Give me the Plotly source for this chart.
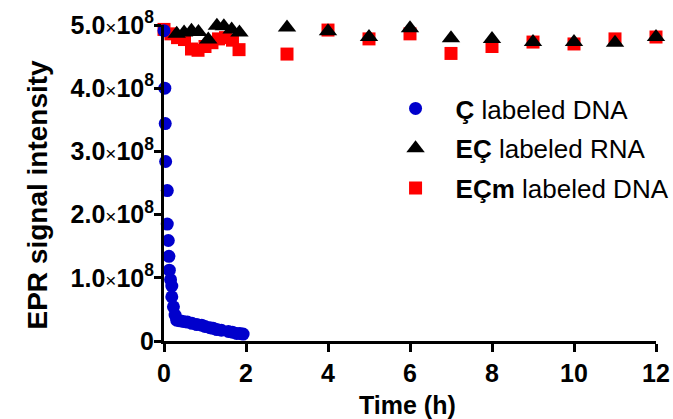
import plotly.graph_objects as go

# Ç labeled DNA (blue circles)
c_time = [0, 0.02, 0.03, 0.04, 0.08, 0.08, 0.105, 0.12, 0.13, 0.16, 0.19, 0.19, 0.23, 0.27,
          0.31, 0.39, 0.47, 0.57, 0.68, 0.80, 0.92, 1.00, 1.12, 1.20, 1.29, 1.40, 1.57, 1.67, 1.77, 1.85, 1.93]
c_val = [4.91, 4.00, 3.44, 2.84, 2.38, 1.85, 1.59, 1.34, 1.12, 0.97, 0.87, 0.70, 0.54, 0.41,
         0.33, 0.32, 0.31, 0.30, 0.28, 0.26, 0.25, 0.23, 0.21, 0.20, 0.18, 0.17, 0.15, 0.14, 0.12, 0.12, 0.11]

# EÇ labeled RNA (black triangles)
r_time = [0, 0.16, 0.31, 0.49, 0.67, 0.84, 1.08, 1.29, 1.46, 1.65, 1.84, 3, 4, 5, 6, 7, 8, 9, 10, 11, 12]
r_val = [5.06, 5.06, 4.86, 4.88, 4.91, 4.89, 4.77, 4.99, 4.98, 4.93, 4.88,
         4.96, 4.90, 4.81, 4.95, 4.79, 4.78, 4.73, 4.73, 4.72, 4.81]

# EÇm labeled DNA (red squares)
m_time = [0, 0.17, 0.33, 0.5, 0.67, 0.83, 1.0, 1.17, 1.33, 1.5, 1.67, 1.83, 3, 4, 5, 6, 7, 8, 9, 10, 11, 12]
m_val = [4.93, 4.86, 4.80, 4.77, 4.62, 4.60, 4.66, 4.72, 4.78, 4.80, 4.76, 4.61,
         4.54, 4.92, 4.78, 4.86, 4.55, 4.66, 4.73, 4.70, 4.78, 4.81]

scale = 1e8
y_tickvals = [0, 1, 2, 3, 4, 5]
y_ticktext = ["<b>0</b>"] + [
    "<b>%d.0</b><span style='font-size:19px'>×</span><b>10<sup>8</sup></b>" % v for v in [1, 2, 3, 4, 5]
]
x_tickvals = [0, 2, 4, 6, 8, 10, 12]

fig = go.Figure()
fig.add_trace(go.Scatter(
    x=m_time, y=[v * scale for v in m_val], mode="markers", name="<b>EÇm</b> labeled DNA",
    marker=dict(symbol="square", size=13, color="#ff0000"), cliponaxis=False,
    legendrank=3, legendgroup="m"))
fig.add_trace(go.Scatter(
    x=r_time, y=[v * scale for v in r_val], mode="markers", name="<b>EÇ</b> labeled RNA",
    marker=dict(symbol="triangle-up", size=16, color="#000000"), cliponaxis=False,
    legendrank=2, legendgroup="r"))
fig.add_trace(go.Scatter(
    x=c_time, y=[v * scale for v in c_val], mode="markers", name="<b>Ç</b> labeled DNA",
    marker=dict(symbol="circle", size=13, color="#0000cc"), cliponaxis=False,
    legendrank=1, legendgroup="c"))

font_family = "Liberation Sans, Arial, sans-serif"

fig.update_layout(
    width=673, height=419,
    margin=dict(l=164, r=17, t=25, b=78, autoexpand=False),
    paper_bgcolor="white", plot_bgcolor="white",
    font=dict(family=font_family, color="black"),
    showlegend=True,
    legend=dict(x=0.43, y=0.81, xanchor="left", yanchor="top",
                font=dict(size=26, family=font_family, color="black"),
                itemwidth=70, tracegroupgap=3, bgcolor="rgba(0,0,0,0)"),
    xaxis=dict(range=[0, 12], tickvals=x_tickvals, ticktext=["<b>%d</b>" % v for v in x_tickvals],
               showline=True, linewidth=3, linecolor="black", ticks="outside", ticklen=8,
               tickwidth=3, tickcolor="black", showgrid=False, zeroline=False, automargin=False,
               tickfont=dict(size=25, family=font_family)),
    yaxis=dict(range=[0, 5 * scale], tickvals=[v * scale for v in y_tickvals], ticktext=y_ticktext,
               showline=True, linewidth=3, linecolor="black", ticks="outside", ticklen=7,
               tickwidth=3, tickcolor="black", showgrid=False, zeroline=False, automargin=False,
               ticklabelstandoff=-5,
               tickfont=dict(size=25, family=font_family)),
    annotations=[
        dict(text="<b>EPR signal intensity</b>", textangle=-90, xref="paper", yref="paper",
             x=(37 - 164) / 492, y=(341 - 194.5) / 316, xanchor="center", yanchor="middle",
             showarrow=False, font=dict(size=28, family=font_family, color="black")),
        dict(text="<b>Time (h)</b>", xref="paper", yref="paper",
             x=(407.5 - 164) / 492, y=(341 - 405) / 316, xanchor="center", yanchor="middle",
             showarrow=False, font=dict(size=25, family=font_family, color="black")),
    ],
)

fig.write_html("out.html", config={"displayModeBar": False},
               post_script="document.body.style.margin='0px';document.body.style.overflow='hidden';")
